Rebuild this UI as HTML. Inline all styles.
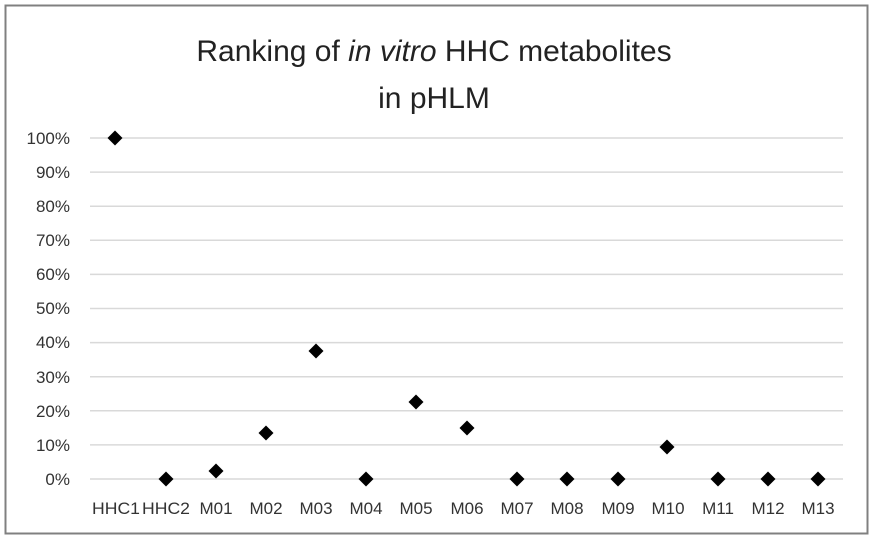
<!DOCTYPE html>
<html><head><meta charset="utf-8"><style>
html,body{margin:0;padding:0;background:#fff}
svg{display:block}
text{font-family:"Liberation Sans",sans-serif}
</style></head><body>
<svg width="869" height="536" viewBox="0 0 869 536" xmlns="http://www.w3.org/2000/svg">
<rect x="5.5" y="5.5" width="862" height="528" fill="#fff" stroke="#808080" stroke-width="2"/>
<text x="434" y="61" font-size="30" text-anchor="middle" fill="#222">Ranking of <tspan font-style="italic">in vitro</tspan> HHC metabolites</text>
<text x="434" y="108" font-size="30" text-anchor="middle" fill="#222">in pHLM</text>
<g stroke="#d9d9d9" stroke-width="1.5">
<line x1="90" x2="843" y1="138" y2="138"/><line x1="90" x2="843" y1="172.1" y2="172.1"/>
<line x1="90" x2="843" y1="206.2" y2="206.2"/><line x1="90" x2="843" y1="240.3" y2="240.3"/>
<line x1="90" x2="843" y1="274.4" y2="274.4"/><line x1="90" x2="843" y1="308.5" y2="308.5"/>
<line x1="90" x2="843" y1="342.6" y2="342.6"/><line x1="90" x2="843" y1="376.7" y2="376.7"/>
<line x1="90" x2="843" y1="410.8" y2="410.8"/><line x1="90" x2="843" y1="444.9" y2="444.9"/>
<line x1="90" x2="843" y1="479" y2="479"/>
</g>
<g font-size="17" fill="#333" text-anchor="end">
<text x="70" y="144">100%</text><text x="70" y="178">90%</text><text x="70" y="212">80%</text>
<text x="70" y="246">70%</text><text x="70" y="280">60%</text><text x="70" y="314">50%</text>
<text x="70" y="348">40%</text><text x="70" y="383">30%</text><text x="70" y="417">20%</text>
<text x="70" y="451">10%</text><text x="70" y="485">0%</text>
</g>
<g font-size="17" fill="#333" text-anchor="middle">
<text x="116" y="514" textLength="48" lengthAdjust="spacingAndGlyphs">HHC1</text><text x="166" y="514" textLength="48" lengthAdjust="spacingAndGlyphs">HHC2</text><text x="216" y="514">M01</text>
<text x="266" y="514">M02</text><text x="316" y="514">M03</text><text x="366" y="514">M04</text>
<text x="416" y="514">M05</text><text x="467" y="514">M06</text><text x="517" y="514">M07</text>
<text x="567" y="514">M08</text><text x="618" y="514">M09</text><text x="668" y="514">M10</text>
<text x="718" y="514">M11</text><text x="768" y="514">M12</text><text x="818" y="514">M13</text>
</g>
<g fill="#000">
<path d="M0,-7.5L7.5,0L0,7.5L-7.5,0Z" transform="translate(115,138)"/>
<path d="M0,-7.5L7.5,0L0,7.5L-7.5,0Z" transform="translate(166,479)"/>
<path d="M0,-7.5L7.5,0L0,7.5L-7.5,0Z" transform="translate(216,471)"/>
<path d="M0,-7.5L7.5,0L0,7.5L-7.5,0Z" transform="translate(266,433)"/>
<path d="M0,-7.5L7.5,0L0,7.5L-7.5,0Z" transform="translate(316,351)"/>
<path d="M0,-7.5L7.5,0L0,7.5L-7.5,0Z" transform="translate(366,479)"/>
<path d="M0,-7.5L7.5,0L0,7.5L-7.5,0Z" transform="translate(416,402)"/>
<path d="M0,-7.5L7.5,0L0,7.5L-7.5,0Z" transform="translate(467,428)"/>
<path d="M0,-7.5L7.5,0L0,7.5L-7.5,0Z" transform="translate(517,479)"/>
<path d="M0,-7.5L7.5,0L0,7.5L-7.5,0Z" transform="translate(567,479)"/>
<path d="M0,-7.5L7.5,0L0,7.5L-7.5,0Z" transform="translate(618,479)"/>
<path d="M0,-7.5L7.5,0L0,7.5L-7.5,0Z" transform="translate(667,447)"/>
<path d="M0,-7.5L7.5,0L0,7.5L-7.5,0Z" transform="translate(718,479)"/>
<path d="M0,-7.5L7.5,0L0,7.5L-7.5,0Z" transform="translate(768,479)"/>
<path d="M0,-7.5L7.5,0L0,7.5L-7.5,0Z" transform="translate(818,479)"/>
</g>
</svg>
</body></html>
